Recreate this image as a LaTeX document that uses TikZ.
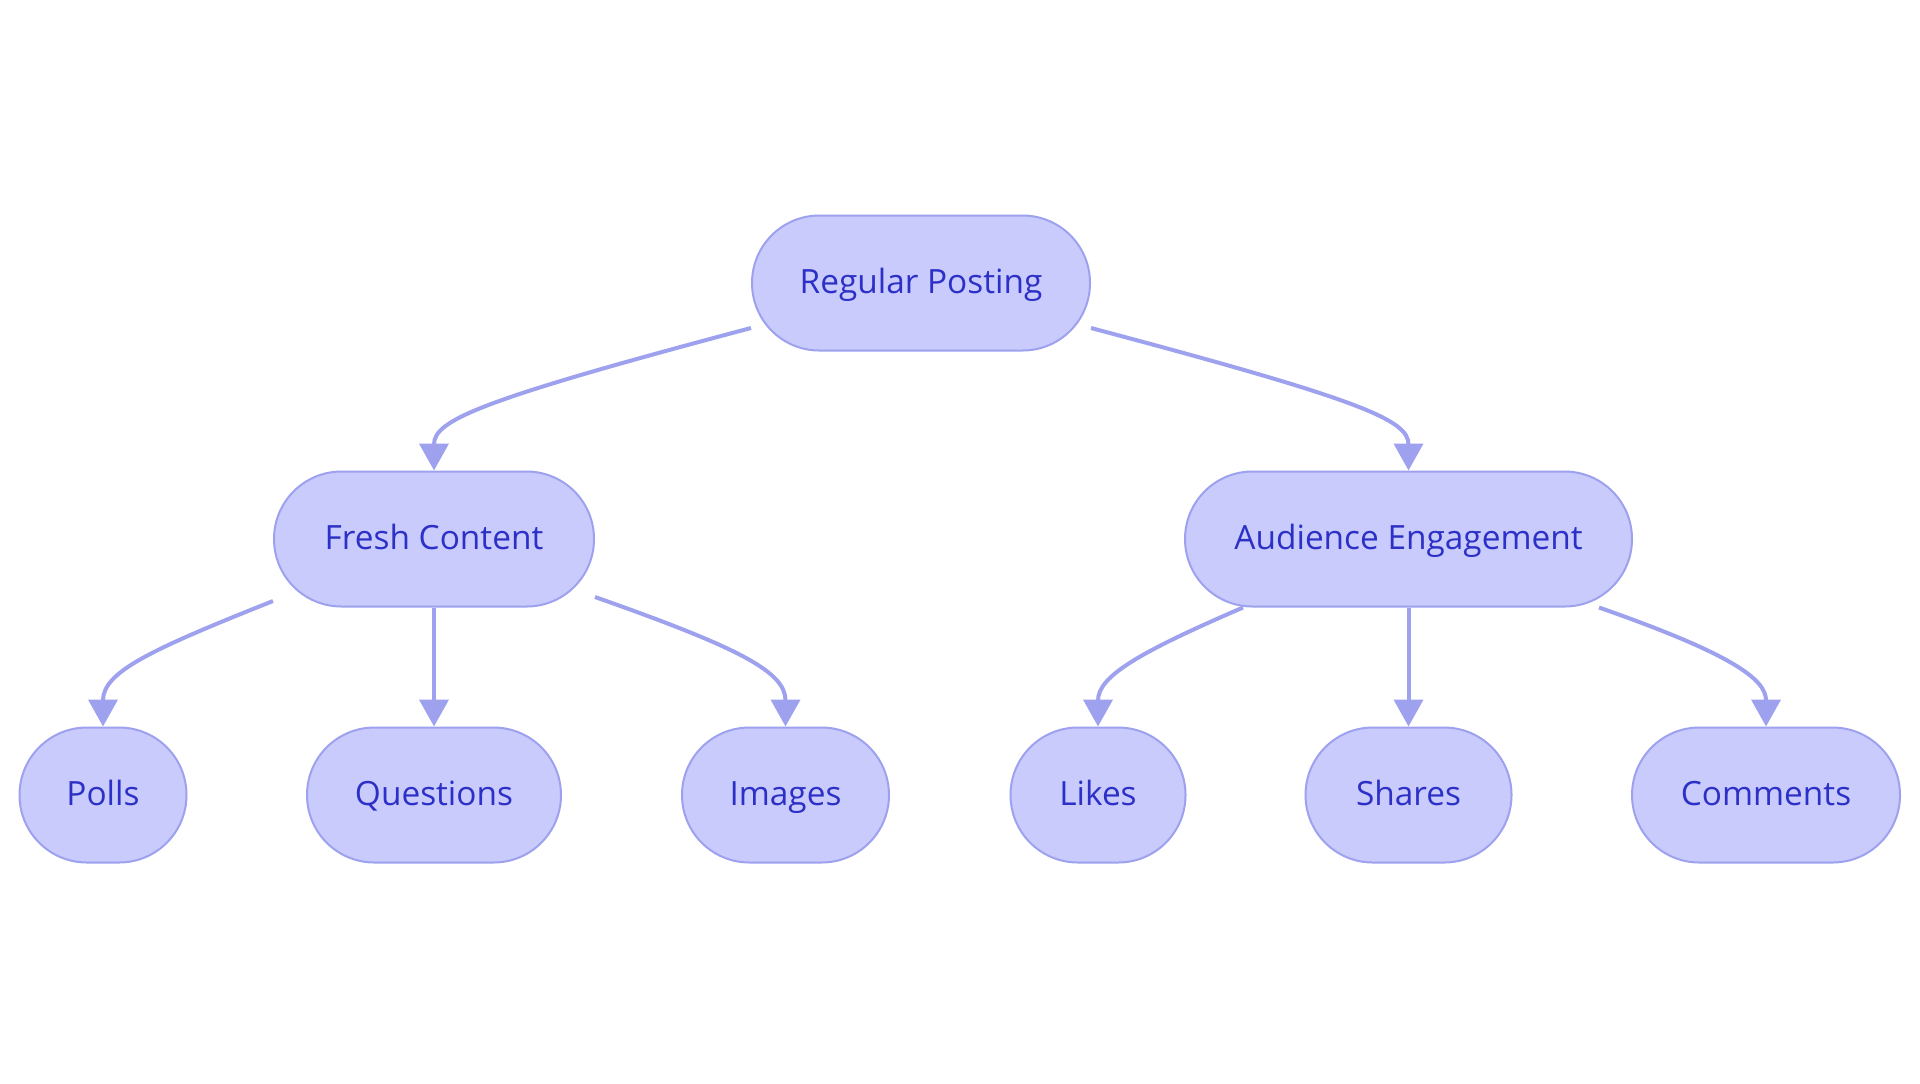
\documentclass[tikz,border=0pt]{standalone}
\usepackage{fontspec}
\setmainfont{Open Sans}
\usetikzlibrary{arrows.meta,calc}
\definecolor{nfill}{HTML}{C8CBFB}
\definecolor{nline}{HTML}{9DA1EE}
\definecolor{ntext}{HTML}{2C30C6}
\begin{document}
\begin{tikzpicture}[x=0.5pt,y=-0.5pt,
  pill/.style={draw=nline,fill=nfill,line width=1pt,text=ntext,rounded corners=33.7pt,
    minimum height=67.5pt,inner sep=0pt,text height=12pt,text depth=2pt,font=\fontsize{16.7}{18}\selectfont},
  conn/.style={draw=nline,line width=2pt,-{Triangle[width=14.5pt,length=13.5pt]}}]
\useasboundingbox (0,0) rectangle (1920,1083);
\node[pill,minimum width=169pt] (rp) at (921,283) {Regular Posting};
\node[pill,minimum width=160pt] (fc) at (434,539) {Fresh Content};
\node[pill,minimum width=223.5pt] (ae) at (1408.5,539) {Audience Engagement};
\node[pill,minimum width=83.5pt] (polls) at (103,795) {Polls};
\node[pill,minimum width=127pt] (quest) at (434,795) {Questions};
\node[pill,minimum width=103.5pt] (img) at (785.5,795) {Images};
\node[pill,minimum width=87.5pt] (likes) at (1098,795) {Likes};
\node[pill,minimum width=103pt] (shares) at (1408.5,795) {Shares};
\node[pill,minimum width=134pt] (comm) at (1766,795) {Comments};
\path[conn] ($(rp.west)+(0,45)$) .. controls (480,400) and (434,420) .. (fc.north);
\path[conn] ($(rp.east)+(0,45)$) .. controls (1362,400) and (1408.5,420) .. (ae.north);
\path[conn] ($(fc.west)+(0,62)$) .. controls (150,650) and (103,672) .. (polls.north);
\path[conn] (fc.south) -- (quest.north);
\path[conn] ($(fc.east)+(0,58)$) .. controls (740,648) and (785.5,672) .. (img.north);
\path[conn] ($(ae.south west)+(59,0)$) .. controls (1140,652) and (1098,676) .. (likes.north);
\path[conn] (ae.south) -- (shares.north);
\path[conn] ($(ae.south east)+(-34,0)$) .. controls (1735,655) and (1766,680) .. (comm.north);
\end{tikzpicture}
\end{document}
